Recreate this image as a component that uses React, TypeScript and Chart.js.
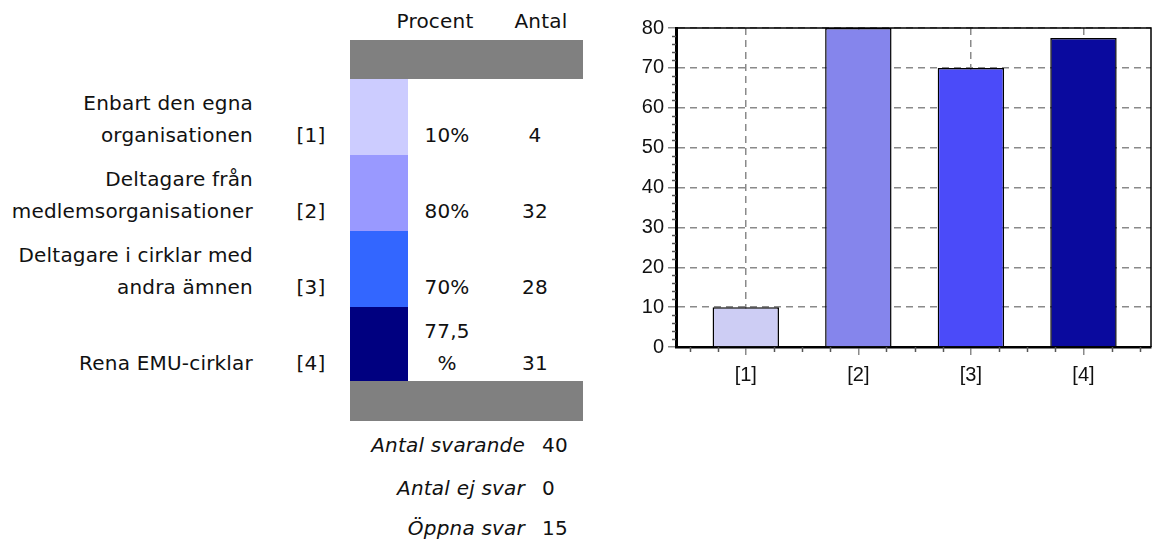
import React, { useEffect, useRef } from "react";
import { Chart, registerables } from "chart.js";

Chart.register(...registerables);

const CATEGORIES = ["[1]", "[2]", "[3]", "[4]"];
const LABEL_LINES = [
  ["Enbart den egna", "organisationen"],
  ["Deltagare från", "medlemsorganisationer"],
  ["Deltagare i cirklar med", "andra ämnen"],
  ["Rena EMU-cirklar"],
];
const PERCENT_VALUES = [10, 80, 70, 77.5];
const PERCENT_LABELS = ["10%", "80%", "70%", "77,5 %"];
const COUNTS = [4, 32, 28, 31];
const SWATCH_COLORS = ["#CCCCFF", "#9999FF", "#3366FF", "#000080"];
const BAR_COLORS = ["#CDCDF4", "#8585EC", "#4B4BF9", "#0A0A9E"];
const SUMMARY_LABELS = ["Antal svarande", "Antal ej svar", "Öppna svar"];
const SUMMARY_VALUES = [40, 0, 15];
const HEADER_LABELS = ["Procent", "Antal"];
const Y_MIN = 0;
const Y_MAX = 80;
const Y_STEP = 10;

const FONT = '"DejaVu Sans", Verdana, sans-serif';
const CHART_FONT = '"Liberation Sans", Arial, sans-serif';
const PAGE_H = 540;
const ROW_TOP = 79;
const ROW_H = 76;
const LINE_H = 32;

const minorTicks = {
  id: "minorTicks",
  afterDraw(chart: any) {
    const { ctx, chartArea, scales } = chart;
    const x = scales.x;
    const y = scales.y;
    ctx.save();
    ctx.strokeStyle = "#555";
    ctx.lineWidth = 1.5;
    for (let v = Y_MIN; v <= Y_MAX; v += 2) {
      if (v % Y_STEP === 0) continue;
      const py = Math.round(y.getPixelForValue(v)) + 0.5;
      ctx.beginPath();
      ctx.moveTo(chartArea.left - 4, py);
      ctx.lineTo(chartArea.left, py);
      ctx.stroke();
    }
    for (let v = -0.5; v <= CATEGORIES.length - 0.5 + 1e-6; v += 0.25) {
      if (Math.abs(v - Math.round(v)) < 1e-6) continue;
      const px = Math.round(x.getPixelForValue(v)) + 0.5;
      ctx.beginPath();
      ctx.moveTo(px, chartArea.bottom);
      ctx.lineTo(px, chartArea.bottom + 5);
      ctx.stroke();
    }
    ctx.strokeStyle = "#000";
    ctx.lineWidth = 1.5;
    ctx.beginPath();
    ctx.moveTo(chartArea.left, chartArea.top);
    ctx.lineTo(chartArea.right, chartArea.top);
    ctx.lineTo(chartArea.right, chartArea.bottom);
    ctx.stroke();
    ctx.restore();
  },
};

function BarChart() {
  const ref = useRef<HTMLCanvasElement | null>(null);
  useEffect(() => {
    if (!ref.current) return;
    const chart = new Chart(ref.current, {
      type: "bar",
      data: {
        datasets: [
          {
            data: PERCENT_VALUES.map((v, i) => ({ x: i, y: v })) as any,
            backgroundColor: BAR_COLORS,
            borderColor: "#000",
            borderWidth: 1.5,
            barPercentage: 0.59,
            categoryPercentage: 1,
          },
        ],
      },
      options: {
        animation: false,
        responsive: false,
        maintainAspectRatio: false,
        layout: { padding: { top: 28, right: 3, left: 0, bottom: 0 } },
        plugins: { legend: { display: false }, tooltip: { enabled: false } },
        scales: {
          x: {
            type: "linear",
            offset: false,
            min: -0.62,
            max: 3.6,
            afterBuildTicks: (s: any) => {
              s.ticks = CATEGORIES.map((_, i) => ({ value: i }));
            },
            afterFit: (s: any) => {
              s.height = 53;
            },
            ticks: {
              autoSkip: false,
              maxRotation: 0,
              padding: 8,
              color: "#111",
              font: { family: CHART_FONT, size: 20 },
              callback: (v: any) => CATEGORIES[v] ?? "",
            },
            grid: {
              offset: false,
              color: "#8a8a8a",
              lineWidth: 1.5,
              tickLength: 8,
              tickColor: "#8a8a8a",
              tickBorderDash: [],
            },
            border: { color: "#000", width: 2.5, dash: [7, 5] },
          },
          y: {
            min: Y_MIN,
            max: Y_MAX,
            afterFit: (s: any) => {
              s.width = 76;
            },
            ticks: {
              stepSize: Y_STEP,
              padding: 4,
              color: "#111",
              font: { family: CHART_FONT, size: 20 },
            },
            grid: {
              color: "#8a8a8a",
              lineWidth: 1.5,
              tickLength: 8,
              tickColor: "#8a8a8a",
              tickBorderDash: [],
            },
            border: { color: "#000", width: 3, dash: [7, 5] },
          },
        },
      } as any,
      plugins: [minorTicks],
    });
    return () => chart.destroy();
  }, []);
  return <canvas ref={ref} width={554} height={400} style={{ display: "block" }} />;
}

export default function App() {
  const abs = (extra: any) => ({ position: "absolute" as const, ...extra });
  const textBase = {
    fontFamily: FONT,
    fontSize: 20,
    letterSpacing: "0.2px",
    lineHeight: `${LINE_H}px`,
    color: "#111",
    whiteSpace: "nowrap" as const,
  };
  return (
    <div style={abs({ left: 0, top: 0, width: 1154, height: PAGE_H, background: "#fff", overflow: "hidden" })}>
      <div style={abs({ ...textBase, left: 385, width: 100, top: 21 - LINE_H / 2, textAlign: "center" })}>
        {HEADER_LABELS[0]}
      </div>
      <div style={abs({ ...textBase, left: 491, width: 100, top: 21 - LINE_H / 2, textAlign: "center" })}>
        {HEADER_LABELS[1]}
      </div>
      <div style={abs({ left: 350, top: 40, width: 233, height: 39, background: "#808080" })} />
      <div style={abs({ left: 350, top: 381, width: 233, height: 40, background: "#808080" })} />
      {CATEGORIES.map((cat, i) => {
        const rowTop = ROW_TOP + i * ROW_H;
        const lastCenter = rowTop + 56;
        const bottom = PAGE_H - (lastCenter + LINE_H / 2);
        const h = i === CATEGORIES.length - 1 ? 381 - rowTop : ROW_H;
        return (
          <React.Fragment key={cat}>
            <div style={abs({ left: 350, top: rowTop, width: 58, height: h, background: SWATCH_COLORS[i] })} />
            <div style={abs({ ...textBase, left: 0, width: 253, bottom, textAlign: "right" })}>
              {LABEL_LINES[i].map((l, j) => (
                <div key={j}>{l}</div>
              ))}
            </div>
            <div style={abs({ ...textBase, left: 281, width: 60, bottom, textAlign: "center" })}>{cat}</div>
            <div
              style={abs({
                ...textBase,
                whiteSpace: "normal",
                left: 417,
                width: 60,
                bottom,
                textAlign: "center",
              })}
            >
              {PERCENT_LABELS[i]}
            </div>
            <div style={abs({ ...textBase, left: 495, width: 80, bottom, textAlign: "center" })}>{COUNTS[i]}</div>
          </React.Fragment>
        );
      })}
      {SUMMARY_LABELS.map((lab, i) => {
        const cy = [445, 488, 528][i];
        return (
          <React.Fragment key={lab}>
            <div
              style={abs({
                ...textBase,
                fontStyle: "italic",
                left: 300,
                width: 225,
                top: cy - LINE_H / 2,
                textAlign: "right",
              })}
            >
              {lab}
            </div>
            <div style={abs({ ...textBase, left: 542, top: cy - LINE_H / 2 })}>{SUMMARY_VALUES[i]}</div>
          </React.Fragment>
        );
      })}
      <div style={abs({ left: 600, top: 0, width: 554, height: 400 })}>
        <BarChart />
      </div>
    </div>
  );
}
